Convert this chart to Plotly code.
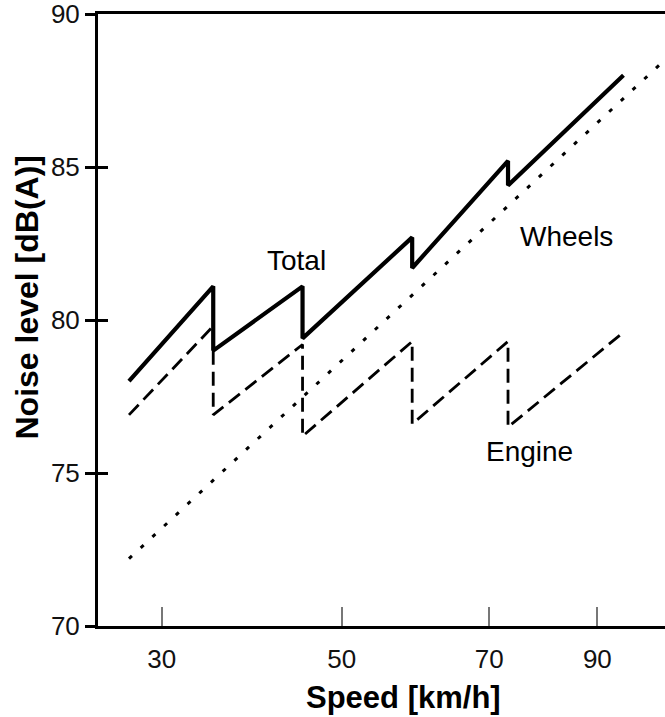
import plotly.graph_objects as go

# Axis tick labels (the reference places them at uneven positions on a linear axis)
x_tick_vals = [30, 54.8, 75.1, 90]
x_tick_text = ["30", "50", "70", "90"]
y_tick_vals = [70, 75, 80, 85, 90]

# Total noise (solid) – saw-tooth with gear changes
total_x = [25.5, 37.1, 37.1, 49.4, 49.4, 64.5, 64.5, 77.7, 77.7, 93.6]
total_y = [78.0, 81.1, 79.0, 81.1, 79.4, 82.7, 81.7, 85.2, 84.4, 88.0]

# Engine noise (dashed)
engine_x = [25.5, 37.1, 37.1, 49.4, 49.4, 64.5, 64.5, 77.7, 77.7, 93.6]
engine_y = [76.9, 79.8, 76.9, 79.2, 76.2, 79.3, 76.6, 79.3, 76.5, 79.6]

# Wheel / rolling noise (dotted)
wheels_x = [25.5, 99.3]
wheels_y = [72.2, 88.5]

# Curve labels
label_text = ["Total", "Wheels", "Engine"]
label_x = [48.6, 85.8, 80.7]
label_y = [81.96, 82.72, 75.69]

FONT = "Liberation Sans, Arial, sans-serif"

fig = go.Figure()
fig.add_trace(go.Scatter(x=wheels_x, y=wheels_y, mode="lines",
                         line=dict(color="black", width=3, dash="4px,12px"),
                         showlegend=False, hoverinfo="skip"))
fig.add_trace(go.Scatter(x=engine_x, y=engine_y, mode="lines",
                         line=dict(color="black", width=2.8, dash="14px,7px"),
                         showlegend=False, hoverinfo="skip"))
fig.add_trace(go.Scatter(x=total_x, y=total_y, mode="lines",
                         line=dict(color="black", width=4.2),
                         showlegend=False, hoverinfo="skip"))
# invisible trace to activate the secondary (inner tick) y axis
fig.add_trace(go.Scatter(x=[None], y=[None], yaxis="y2", showlegend=False, hoverinfo="skip"))

for t, x, y in zip(label_text, label_x, label_y):
    fig.add_annotation(x=x, y=y, text=t, showarrow=False,
                       font=dict(family=FONT, size=28, color="black"),
                       xanchor="center", yanchor="middle")

fig.add_annotation(x=0.538, y=-0.1176, xref="paper", yref="paper",
                   text="<b>Speed [km/h]</b>", showarrow=False,
                   font=dict(family=FONT, size=31, color="black"),
                   xanchor="center", yanchor="middle")
fig.add_annotation(x=-0.1252, y=0.5368, xref="paper", yref="paper",
                   text="<b>Noise level [dB(A)]</b>", showarrow=False, textangle=-90,
                   font=dict(family=FONT, size=32, color="black"),
                   xanchor="center", yanchor="middle")

fig.update_layout(
    width=665, height=717,
    margin=dict(l=98, r=0, t=14, b=91),
    paper_bgcolor="white", plot_bgcolor="white",
    xaxis=dict(range=[21.23, 99.32], tickvals=x_tick_vals, ticktext=x_tick_text,
               ticks="inside", ticklen=19, tickwidth=1.5, tickcolor="#777777",
               showline=True, linecolor="black", linewidth=3, mirror=True,
               showgrid=False, zeroline=False, ticklabelstandoff=8,
               ticklabeloverflow="allow",
               tickfont=dict(family=FONT, size=26, color="#111111")),
    yaxis=dict(range=[70, 90], tickvals=y_tick_vals,
               ticks="outside", ticklen=10, tickwidth=3, tickcolor="black",
               showline=True, linecolor="black", linewidth=3,
               showgrid=False, zeroline=False, ticklabeloverflow="allow",
               tickfont=dict(family=FONT, size=26, color="#111111")),
    yaxis2=dict(range=[70, 90], overlaying="y", side="left", tickvals=y_tick_vals,
                ticks="inside", ticklen=10, tickwidth=3, tickcolor="black",
                showticklabels=False, showline=False, showgrid=False, zeroline=False),
)

fig.write_html("out.html", config={"displayModeBar": False},
               post_script="document.body.style.margin='0';document.body.style.overflow='hidden';")
